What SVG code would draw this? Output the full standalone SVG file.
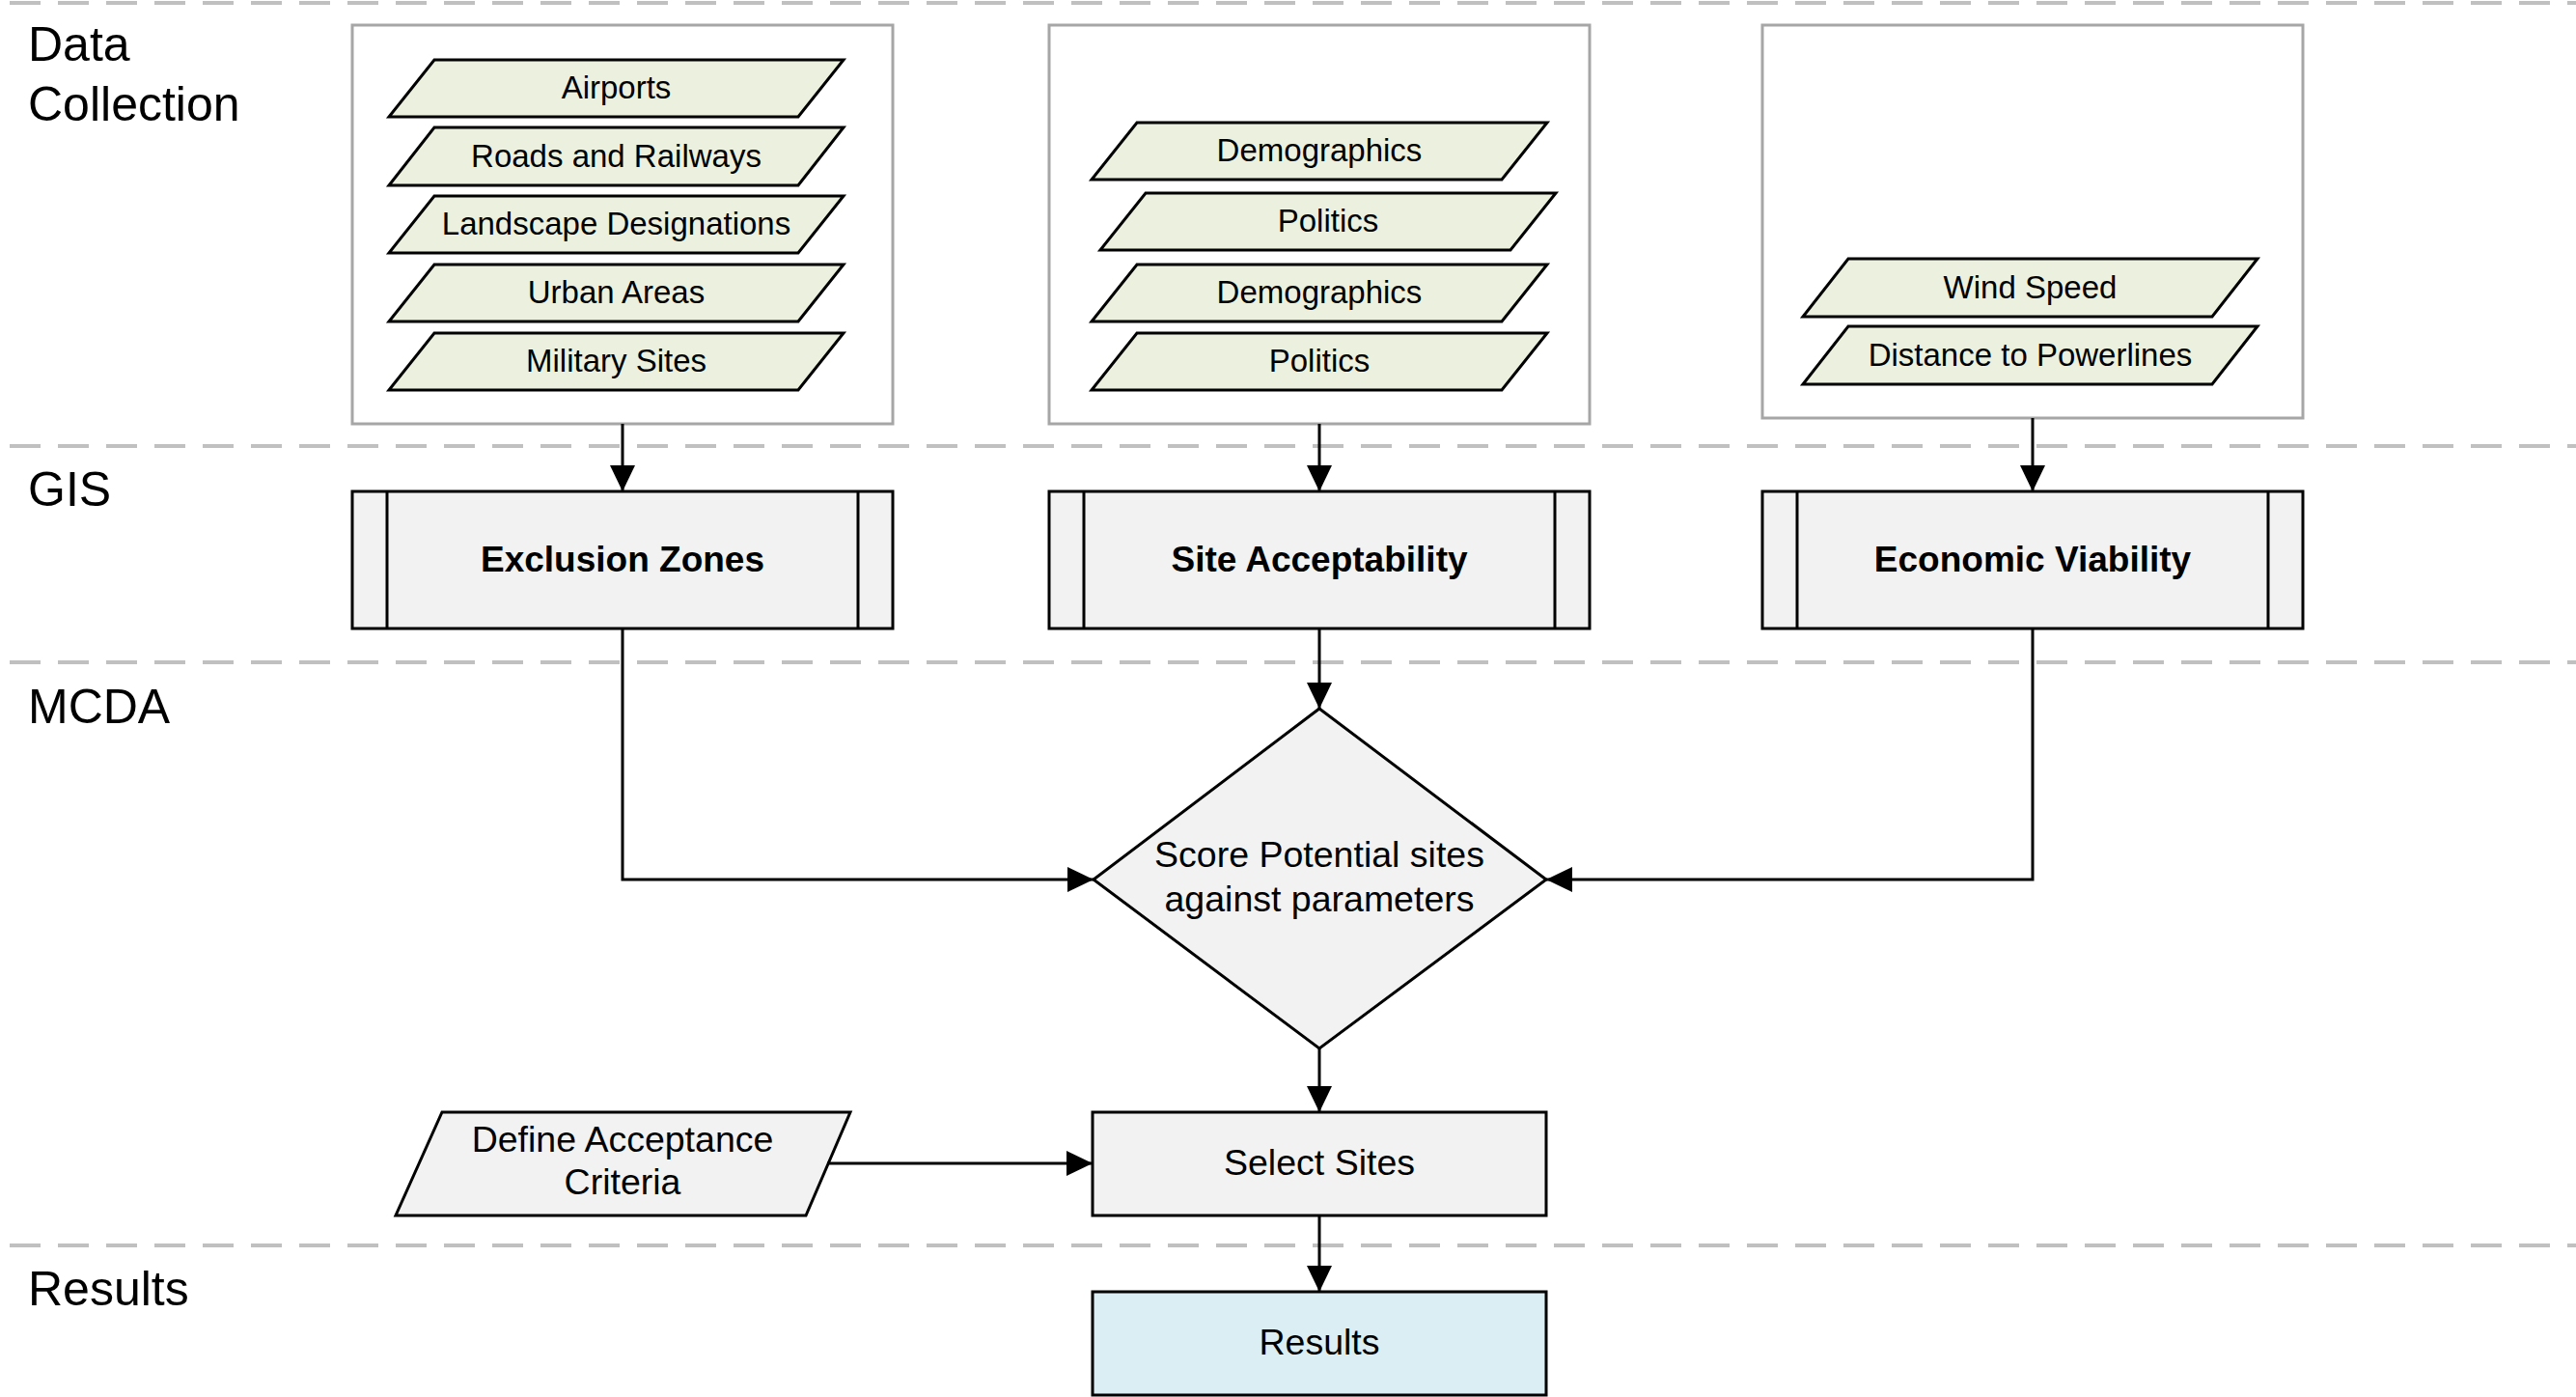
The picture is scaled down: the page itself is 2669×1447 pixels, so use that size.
<svg xmlns="http://www.w3.org/2000/svg" width="2669" height="1447" viewBox="0 0 2669 1447">
<style>
.lane{stroke:#c0c0c0;stroke-width:4;stroke-dasharray:32 18;fill:none}
.lbl{font-family:"Liberation Sans",Arial,sans-serif;font-size:50px;fill:#000}
.grp{fill:#fff;stroke:#a6a6a6;stroke-width:3}
.data{fill:#ebf1de;stroke:#000;stroke-width:3;stroke-linejoin:miter}
.dt{font-family:"Liberation Sans",Arial,sans-serif;font-size:33px;fill:#000;text-anchor:middle}
.proc{fill:#f2f2f2;stroke:#000;stroke-width:3}
.pt{font-family:"Liberation Sans",Arial,sans-serif;font-size:37px;font-weight:bold;fill:#000;text-anchor:middle}
.nt{font-family:"Liberation Sans",Arial,sans-serif;font-size:37.5px;fill:#000;text-anchor:middle}
.res{fill:#daeef3;stroke:#000;stroke-width:3}
.conn{fill:none;stroke:#000;stroke-width:3}
</style>
<defs>
<marker id="arr" markerUnits="userSpaceOnUse" markerWidth="28" markerHeight="26" refX="27" refY="13" orient="auto">
<path d="M0,0 L27,13 L0,26 z" fill="#000"/>
</marker>
</defs>
<g id="lanes">
<line class="lane" x1="10" y1="3" x2="2669" y2="3"/>
<line class="lane" x1="10" y1="462" x2="2669" y2="462"/>
<line class="lane" x1="10" y1="686" x2="2669" y2="686"/>
<line class="lane" x1="10" y1="1290" x2="2669" y2="1290"/>
<text class="lbl" x="29" y="63">Data</text>
<text class="lbl" x="29" y="125">Collection</text>
<text class="lbl" x="29" y="524">GIS</text>
<text class="lbl" x="29" y="749">MCDA</text>
<text class="lbl" x="29" y="1352">Results</text>
</g>
<g id="group-exclusion-data">
<rect class="grp" x="365" y="26" width="560" height="413"/>
<g id="airports"><polygon class="data" points="450,62 874,62 827,121 403,121"/><text class="dt" x="638.5" y="102">Airports</text></g>
<g id="roads"><polygon class="data" points="450,132 874,132 827,192 403,192"/><text class="dt" x="638.5" y="173">Roads and Railways</text></g>
<g id="landscape"><polygon class="data" points="450,203 874,203 827,262 403,262"/><text class="dt" x="638.5" y="243">Landscape Designations</text></g>
<g id="urban"><polygon class="data" points="450,274 874,274 827,333 403,333"/><text class="dt" x="638.5" y="314">Urban Areas</text></g>
<g id="military"><polygon class="data" points="450,345 874,345 827,404 403,404"/><text class="dt" x="638.5" y="385">Military Sites</text></g>
</g>
<g id="group-acceptability-data">
<rect class="grp" x="1087" y="26" width="560" height="413"/>
<g id="demographics1"><polygon class="data" points="1178,127 1603,127 1556,186 1131,186"/><text class="dt" x="1367" y="167">Demographics</text></g>
<g id="politics1"><polygon class="data" points="1187,200 1612,200 1565,259 1140,259"/><text class="dt" x="1376" y="240">Politics</text></g>
<g id="demographics2"><polygon class="data" points="1178,274 1603,274 1556,333 1131,333"/><text class="dt" x="1367" y="314">Demographics</text></g>
<g id="politics2"><polygon class="data" points="1178,345 1603,345 1556,404 1131,404"/><text class="dt" x="1367" y="385">Politics</text></g>
</g>
<g id="group-economic-data">
<rect class="grp" x="1826" y="26" width="560" height="407"/>
<g id="wind"><polygon class="data" points="1915,268 2339,268 2292,328 1868,328"/><text class="dt" x="2103.5" y="309">Wind Speed</text></g>
<g id="powerlines"><polygon class="data" points="1915,338 2339,338 2292,398 1868,398"/><text class="dt" x="2103.5" y="379">Distance to Powerlines</text></g>
</g>
<g id="exclusion-zones">
<rect class="proc" x="365" y="509" width="560" height="142"/>
<line class="proc" x1="401" y1="509" x2="401" y2="651"/>
<line class="proc" x1="889" y1="509" x2="889" y2="651"/>
<text class="pt" x="645" y="592">Exclusion Zones</text>
</g>
<g id="site-acceptability">
<rect class="proc" x="1087" y="509" width="560" height="142"/>
<line class="proc" x1="1123" y1="509" x2="1123" y2="651"/>
<line class="proc" x1="1611" y1="509" x2="1611" y2="651"/>
<text class="pt" x="1367" y="592">Site Acceptability</text>
</g>
<g id="economic-viability">
<rect class="proc" x="1826" y="509" width="560" height="142"/>
<line class="proc" x1="1862" y1="509" x2="1862" y2="651"/>
<line class="proc" x1="2350" y1="509" x2="2350" y2="651"/>
<text class="pt" x="2106" y="592">Economic Viability</text>
</g>
<g id="score">
<polygon class="proc" points="1367,734 1602,911 1367,1086 1133,911"/>
<text class="nt" x="1367" y="898">Score Potential sites</text>
<text class="nt" x="1367" y="944">against parameters</text>
</g>
<g id="define-criteria">
<polygon class="proc" points="458,1152 881,1152 835,1259 410,1259"/>
<text class="nt" x="645" y="1193">Define Acceptance</text>
<text class="nt" x="645" y="1237">Criteria</text>
</g>
<g id="select-sites">
<rect class="proc" x="1132" y="1152" width="470" height="107"/>
<text class="nt" x="1367" y="1217">Select Sites</text>
</g>
<g id="results">
<rect class="res" x="1132" y="1338" width="470" height="107"/>
<text class="nt" x="1367" y="1403">Results</text>
</g>
<g id="connectors">
<line class="conn" x1="645" y1="439" x2="645" y2="509" marker-end="url(#arr)"/>
<line class="conn" x1="1367" y1="439" x2="1367" y2="509" marker-end="url(#arr)"/>
<line class="conn" x1="2106" y1="433" x2="2106" y2="509" marker-end="url(#arr)"/>
<line class="conn" x1="1367" y1="651" x2="1367" y2="734" marker-end="url(#arr)"/>
<polyline class="conn" points="645,651 645,911 1133,911" marker-end="url(#arr)"/>
<polyline class="conn" points="2106,651 2106,911 1602,911" marker-end="url(#arr)"/>
<line class="conn" x1="1367" y1="1086" x2="1367" y2="1152" marker-end="url(#arr)"/>
<line class="conn" x1="857" y1="1205" x2="1132" y2="1205" marker-end="url(#arr)"/>
<line class="conn" x1="1367" y1="1259" x2="1367" y2="1338" marker-end="url(#arr)"/>
</g>
</svg>
